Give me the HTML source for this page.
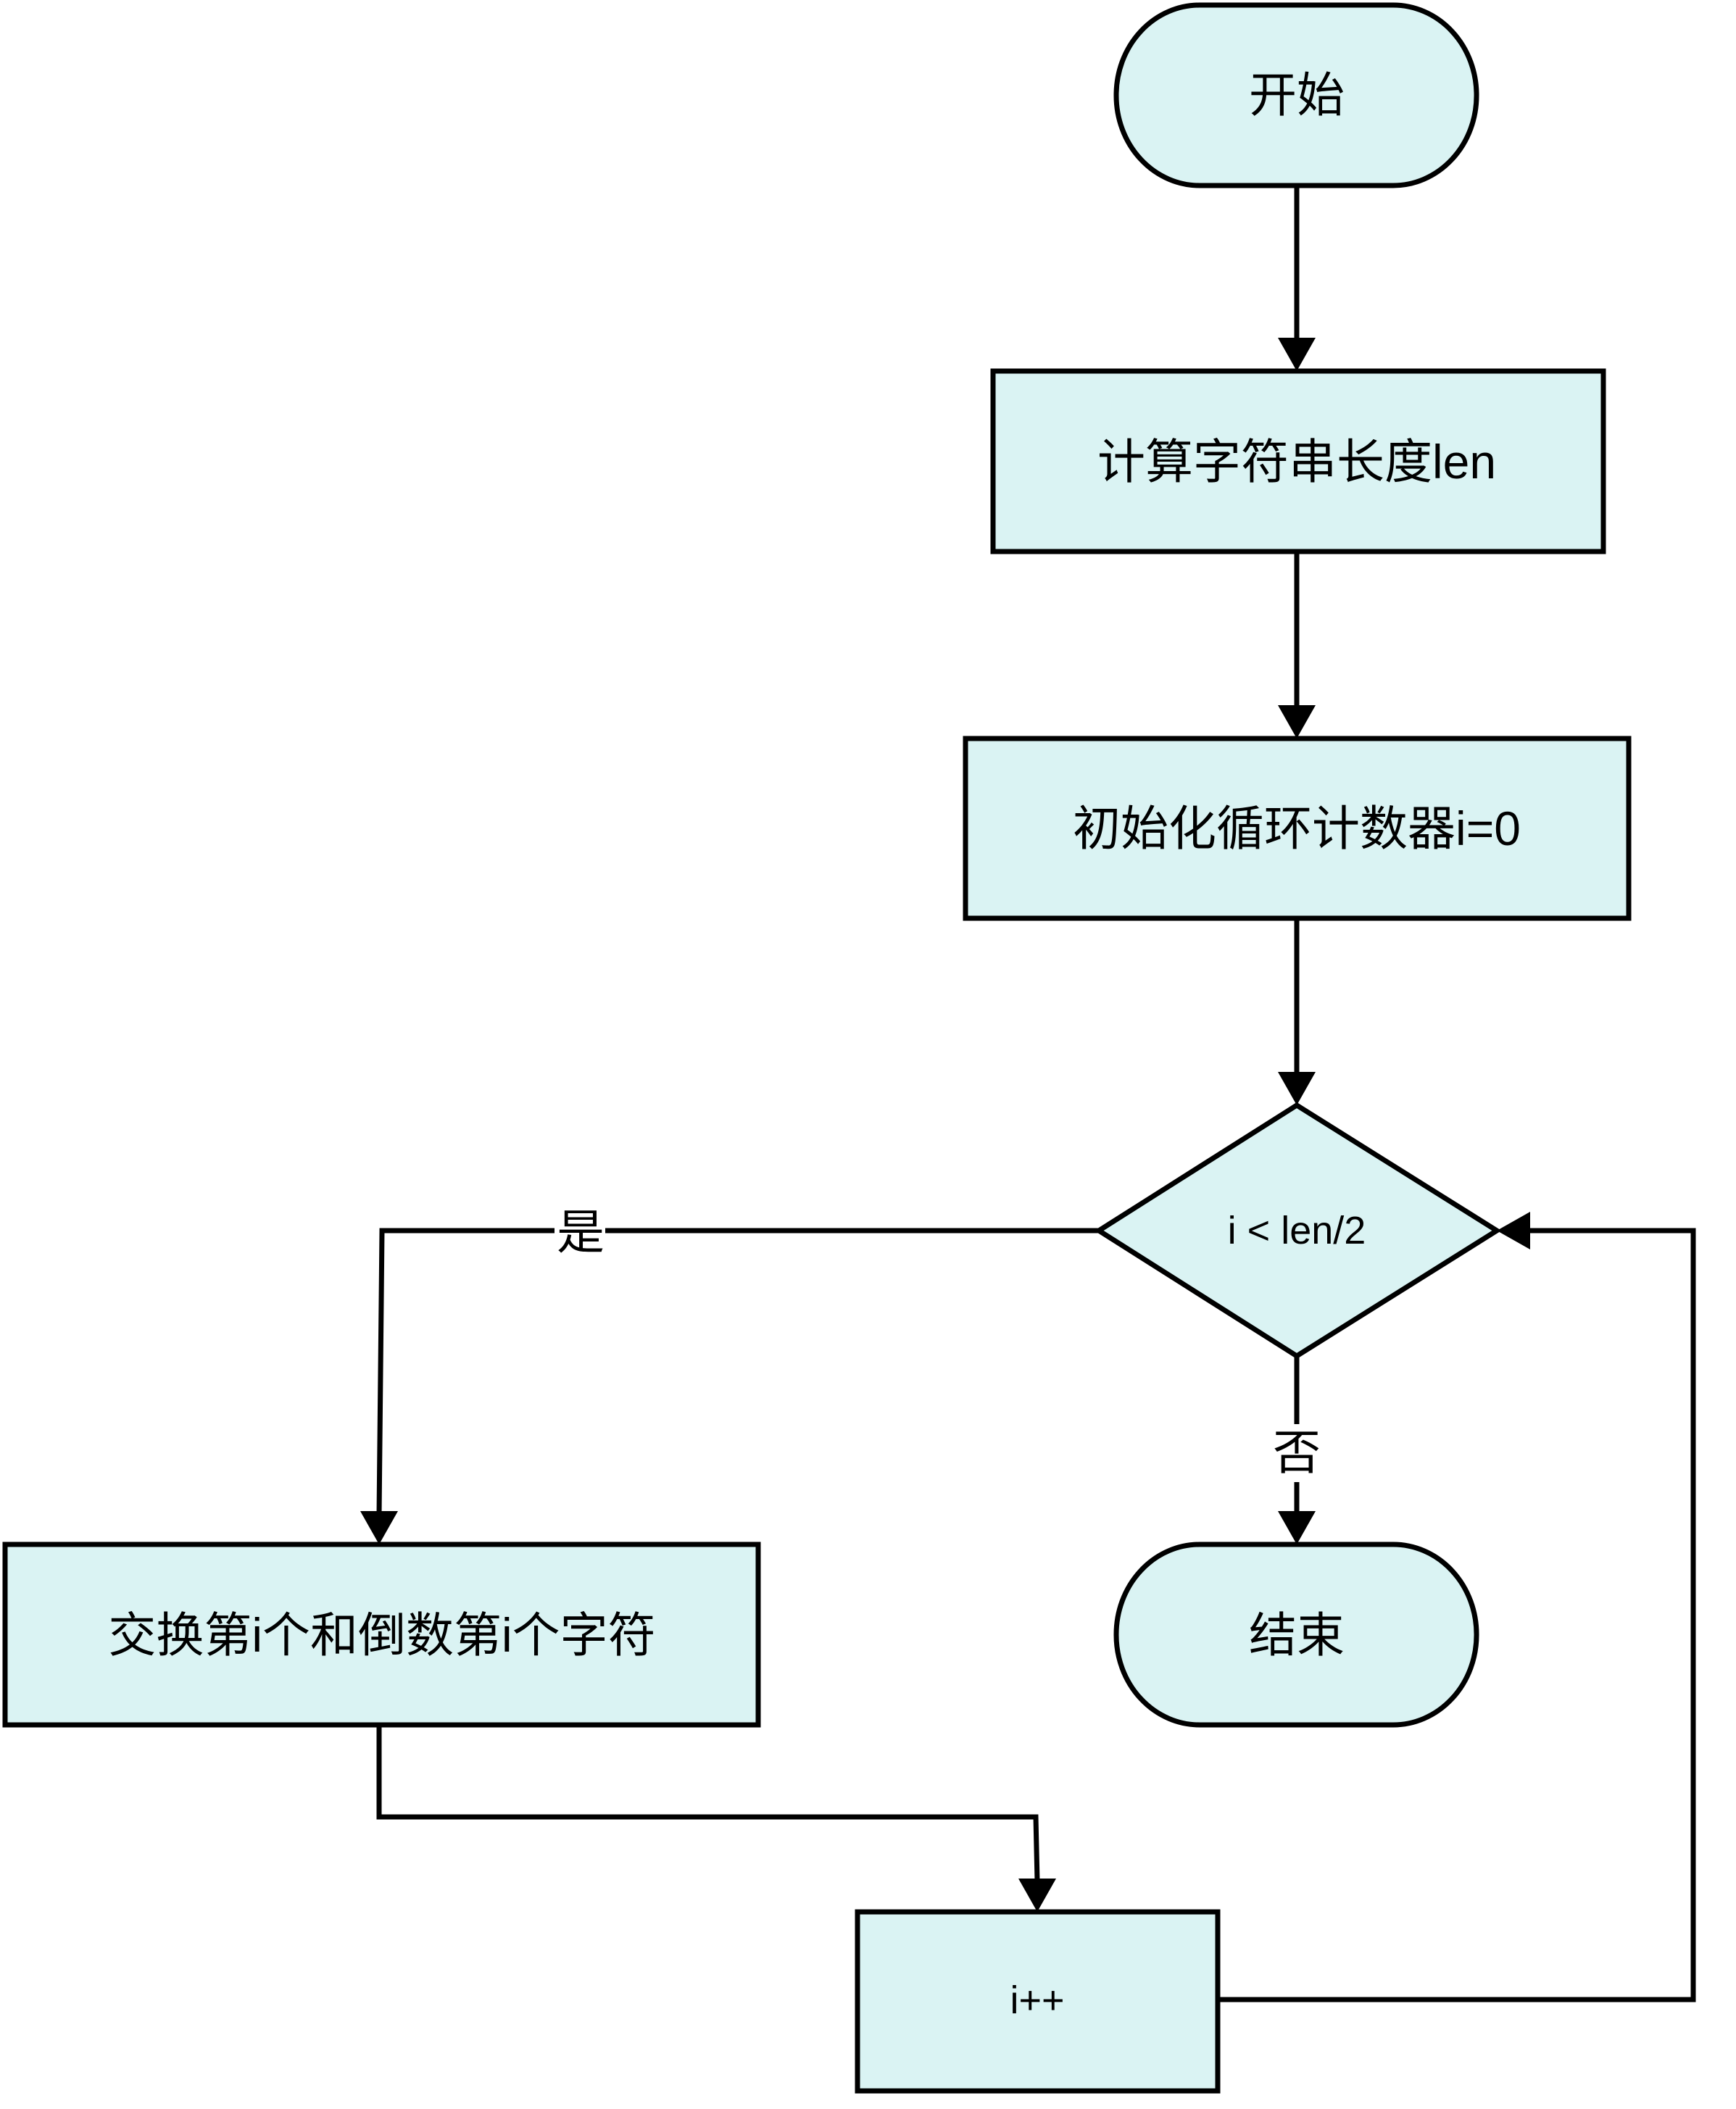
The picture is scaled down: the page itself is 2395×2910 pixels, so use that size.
<!DOCTYPE html>
<html><head><meta charset="utf-8"><style>
html,body{margin:0;padding:0;background:#fff;}
svg{display:block}
text{font-family:"Liberation Sans","Noto Sans CJK SC",sans-serif;fill:#000;text-anchor:middle;dominant-baseline:central}
</style></head><body>
<svg width="2395" height="2910" viewBox="0 0 2395 2910" xmlns="http://www.w3.org/2000/svg">
<defs>
<marker id="a" markerWidth="10" markerHeight="10" refX="9" refY="5" orient="auto" markerUnits="userSpaceOnUse" viewBox="0 0 10 10" style="overflow:visible">
</marker>
</defs>
<g fill="#daf3f3" stroke="#000" stroke-width="7">
<rect x="1540" y="7" width="497" height="249" rx="115" ry="124"/>
<rect x="1370" y="512" width="842" height="249"/>
<rect x="1332" y="1019" width="915" height="248"/>
<polygon points="1789,1525 2065,1698 1789,1871 1516,1698"/>
<rect x="7" y="2131" width="1039" height="249"/>
<rect x="1540" y="2131" width="497" height="249" rx="115" ry="124"/>
<rect x="1183" y="2638" width="497" height="247"/>
</g>
<g fill="none" stroke="#000" stroke-width="7">
<line x1="1789" y1="256" x2="1789" y2="470"/>
<line x1="1789" y1="761" x2="1789" y2="977"/>
<line x1="1789" y1="1267" x2="1789" y2="1483"/>
<polyline points="1516,1698 527,1698 523,2090"/>
<line x1="1789" y1="1871" x2="1789" y2="2090"/>
<polyline points="523,2380 523,2507 1429,2507 1431,2596"/>
<polyline points="1680,2759 2336,2759 2336,1698 2107,1698"/>
</g>
<g fill="#000">
<polygon points="1763,466 1815,466 1789,512"/>
<polygon points="1763,973 1815,973 1789,1019"/>
<polygon points="1763,1479 1815,1479 1789,1525"/>
<polygon points="497,2085 549,2085 523,2131"/>
<polygon points="1763,2085 1815,2085 1789,2131"/>
<polygon points="1405,2592 1457,2592 1431,2638"/>
<polygon points="2111,1672 2111,1724 2065,1698"/>
</g>
<rect x="765" y="1664" width="70" height="70" fill="#fff"/>
<rect x="1754" y="1965" width="70" height="80" fill="#fff"/>
<text x="1789" y="131" font-size="66">开始</text>
<text x="1789" y="637" font-size="66">计算字符串长度len</text>
<text x="1789" y="1143" font-size="66">初始化循环计数器i=0</text>
<text x="1789" y="1698" font-size="54">i &lt; len/2</text>
<text x="801" y="1700" font-size="66">是</text>
<text x="1789" y="2004" font-size="66">否</text>
<text x="527" y="2256" font-size="66">交换第i个和倒数第i个字符</text>
<text x="1789" y="2256" font-size="66">结束</text>
<text x="1431" y="2760" font-size="54">i++</text>
</svg>
</body></html>
